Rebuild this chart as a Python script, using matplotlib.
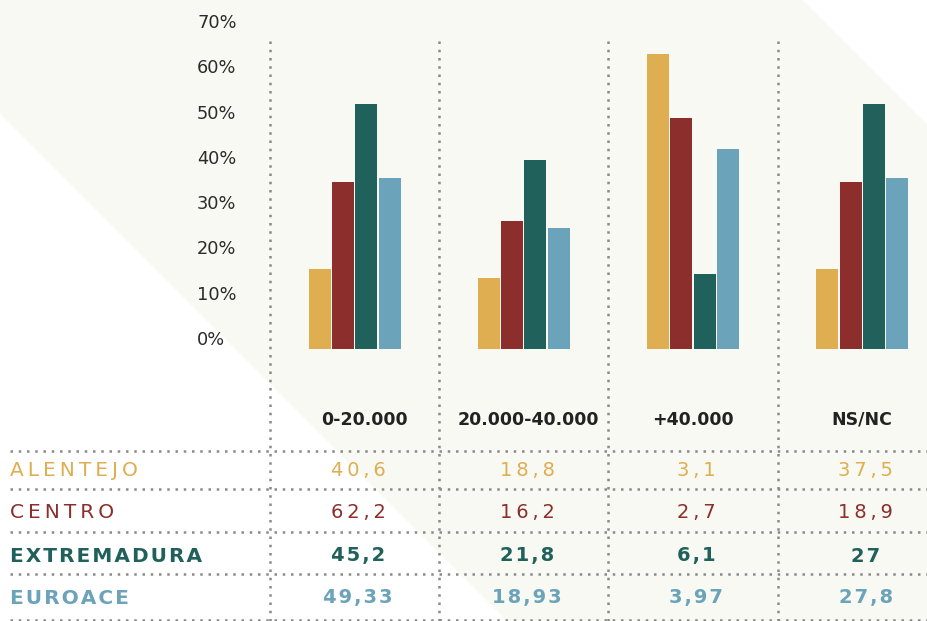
import matplotlib
matplotlib.use("Agg")
import matplotlib.pyplot as plt
import matplotlib.transforms as mtransforms
from matplotlib.patches import Polygon
import numpy as np

# categories / series
groups = ["0-20.000", "20.000-40.000", "+40.000", "NS/NC"]
regions = ["ALENTEJO", "CENTRO", "EXTREMADURA", "EUROACE"]
colors = ["#DFAE51", "#8B2E2C", "#21615B", "#6BA3BA"]

# bar heights in %
alentejo_pct = [17.7, 15.7, 65.1, 17.7]
centro_pct = [36.9, 28.3, 51.0, 36.9]
extremadura_pct = [54.1, 41.7, 16.6, 54.1]
euroace_pct = [37.7, 26.7, 44.2, 37.7]

# table under the chart
alentejo_tab = ["40,6", "18,8", "3,1", "37,5"]
centro_tab = ["62,2", "16,2", "2,7", "18,9"]
extremadura_tab = ["45,2", "21,8", "6,1", "27"]
euroace_tab = ["49,33", "18,93", "3,97", "27,8"]

yticks = [0, 10, 20, 30, 40, 50, 60, 70]

series = [alentejo_pct, centro_pct, extremadura_pct, euroace_pct]
table = [alentejo_tab, centro_tab, extremadura_tab, euroace_tab]
bold_rows = [False, False, True, True]

W, H = 928, 621
fig = plt.figure(figsize=(W / 100, H / 100), dpi=100)
fig.patch.set_facecolor("white")

# background axes in pixel units
bg = fig.add_axes([0, 0, 1, 1])
bg.set_xlim(0, W)
bg.set_ylim(H, 0)
bg.axis("off")
bg.add_patch(Polygon([(0, 0), (803, 0), (928, 125), (928, 621), (507, 621), (0, 114)],
                     closed=True, facecolor="#F8F9F2", edgecolor="none"))

# bar axes
ax = fig.add_axes([270 / W, (H - 349) / H, 658 / W, 317 / H])
ax.set_xlim(-0.5, 3.389)
ax.set_ylim(0, 70)
ax.patch.set_visible(False)
for s in ax.spines.values():
    s.set_visible(False)

x = np.arange(len(groups))
step = 0.138
for k, (vals, col) in enumerate(zip(series, colors)):
    ax.bar(x + (k - 1.5) * step, vals, width=0.13, color=col, zorder=3)

ax.set_xticks([])
ax.set_yticks(yticks)
ax.set_yticklabels([f"{v}%" for v in yticks])
ax.tick_params(axis="y", length=0, pad=52.5, labelsize=12.8, labelcolor="#2b2b2b")
plt.setp(ax.get_yticklabels(), ha="left", va="bottom")

dot = dict(color="#8a8a8a", lw=1.8, linestyle=(0, (1, 2.3)), dash_capstyle="butt")

# vertical column separators
for xb in x - 0.5:
    ax.axvline(xb, ymin=(349 - 621) / 317, ymax=(349 - 41) / 317, clip_on=False, **dot)

# horizontal table lines
for yl in [451, 489, 532, 574, 620]:
    bg.plot([10, 928], [yl, yl], **dot)

# table: x in group units, y in pixels
tr = mtransforms.blended_transform_factory(ax.transData, bg.transData)
head_dx = [0.06, 0.03, 0.0, 0.0]
for i, g in enumerate(groups):
    bg.text(i + head_dx[i], 420, g, transform=tr, ha="center", va="center",
            fontsize=12.5, fontweight="bold", color="#222222")

row_y = [470.5, 513, 556, 598]
for r, name in enumerate(regions):
    w = "bold" if bold_rows[r] else "normal"
    sp = "\u200a" if bold_rows[r] else "\u2009"
    bg.text(10, row_y[r], sp.join(name), ha="left", va="center",
            fontsize=14.5, fontweight=w, color=colors[r])
    for i, val in enumerate(table[r]):
        bg.text(i + 0.02, row_y[r], sp.join(val), transform=tr, ha="center", va="center",
                fontsize=14, fontweight=w, color=colors[r])

fig.savefig("out.png", dpi=100)
